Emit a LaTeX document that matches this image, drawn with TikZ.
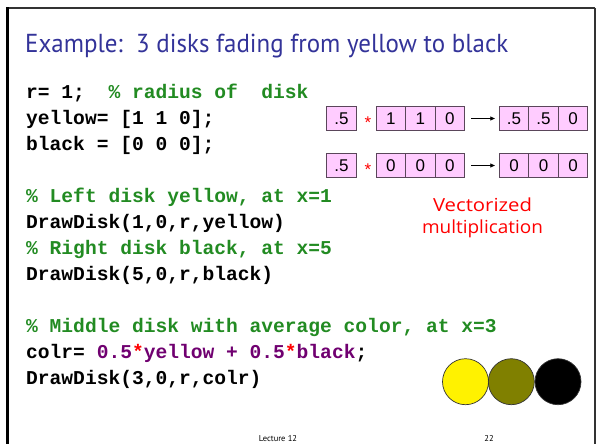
\documentclass[tikz,border=0pt]{standalone}
\usepackage{fontspec}
\usetikzlibrary{arrows.meta}
\setmainfont{Liberation Sans}
\newfontfamily\codefont{Liberation Mono}
\newfontfamily\titlefont{PT Sans}
\newfontfamily\notefont{Open Sans}
\definecolor{titleblue}{RGB}{51,51,153}
\definecolor{cgreen}{RGB}{34,139,34}
\definecolor{cpurple}{RGB}{112,0,112}
\definecolor{cellfill}{RGB}{255,204,255}
\definecolor{cellborder}{RGB}{90,70,90}
\definecolor{olivedisk}{RGB}{128,128,0}
\newcommand{\cm}[1]{\textcolor{cgreen}{#1}}
\newcommand{\pu}[1]{\textcolor{cpurple}{#1}}
\newcommand{\rs}{\textcolor{red}{*}}
\begin{document}
\begin{tikzpicture}[x=1pt,y=-1pt,
  code/.style={anchor=base west, inner sep=0pt, font={\codefont\bfseries\fontsize{19.6pt}{24pt}\selectfont}},
  cell/.style={draw=cellborder, line width=0.8pt, fill=cellfill, minimum width=29.5pt, minimum height=24.5pt, inner sep=0pt, font={\fontsize{17pt}{20pt}\selectfont}},
  star/.style={anchor=base, inner sep=0pt, text=red, font={\fontsize{17pt}{20pt}\selectfont}},
  arr/.style={line width=0.7pt, -{Triangle[length=4.5pt,width=4pt]}},
  disk/.style={circle, draw=black!80, line width=0.7pt, minimum size=46pt, inner sep=0pt},
  foot/.style={inner sep=0pt, anchor=base, font={\titlefont\fontsize{8.5pt}{10pt}\selectfont}}
]
\useasboundingbox (0,0) rectangle (596,444);
% slide frame
\draw[black!80, line width=2pt] (6,8.5) -- (595,8.5);
\draw[black!80, line width=1.2pt] (595,8) -- (595,444);
\draw[black, line width=3pt] (7.5,7.5) -- (7.5,444);

% title
\node[anchor=base west, inner sep=0pt, text=titleblue] (title) at (25,53)
  {\resizebox{483pt}{\height}{\titlefont\fontsize{26pt}{30pt}\selectfont Example:~~3 disks fading from yellow to black}};

% code
\node[code] (l1) at (26,98) {r=~1;~~\cm{\%~radius~of~~disk}};
\node[code] (l2) at (26,124) {yellow=~[1~1~0];};
\node[code] (l3) at (26,150) {black~=~[0~0~0];};
\node[code] (l4) at (26,202) {\cm{\%~Left~disk~yellow,~at~x=1}};
\node[code] (l5) at (26,228) {DrawDisk(1,0,r,yellow)};
\node[code] (l6) at (26,254) {\cm{\%~Right~disk~black,~at~x=5}};
\node[code] (l7) at (26,280) {DrawDisk(5,0,r,black)};
\node[code] (l8) at (26,332) {\cm{\%~Middle~disk~with~average~color,~at~x=3}};
\node[code] (l9) at (26,358) {colr=~\pu{0.5}\rs\pu{yellow~+~0.5}\rs\pu{black};};
\node[code] (l10) at (26,384) {DrawDisk(3,0,r,colr)};

% vectorized multiplication, row 1
\node[cell] (r1a) at (341.5,118.5) {.5};
\node[star] (r1s) at (368,128.5) {*};
\node[cell] (r1b1) at (390.75,118.5) {1};
\node[cell] (r1b2) at (420.25,118.5) {1};
\node[cell] (r1b3) at (449.75,118.5) {0};
\node[cell] (r1c1) at (514,118.5) {.5};
\node[cell] (r1c2) at (543.5,118.5) {.5};
\node[cell] (r1c3) at (573,118.5) {0};
\draw[arr] ([xshift=6.5pt]r1b3.east) -- ([xshift=-4pt]r1c1.west);

% row 2
\node[cell] (r2a) at (341.5,165.5) {.5};
\node[star] (r2s) at (368,175.5) {*};
\node[cell] (r2b1) at (390.75,165.5) {0};
\node[cell] (r2b2) at (420.25,165.5) {0};
\node[cell] (r2b3) at (449.75,165.5) {0};
\node[cell] (r2c1) at (514,165.5) {0};
\node[cell] (r2c2) at (543.5,165.5) {0};
\node[cell] (r2c3) at (573,165.5) {0};
\draw[arr] ([xshift=6.5pt]r2b3.east) -- ([xshift=-4pt]r2c1.west);

% note
\node[anchor=base, inner sep=0pt, text=red] (n1) at (482.5,211)
  {\resizebox{99pt}{\height}{\notefont\fontsize{18pt}{22pt}\selectfont Vectorized}};
\node[anchor=base, inner sep=0pt, text=red] (n2) at (482.5,233)
  {\resizebox{121pt}{\height}{\notefont\fontsize{18pt}{22pt}\selectfont multiplication}};

% disks
\node[disk, fill=yellow] (d1) at (465.5,381.7) {};
\node[disk, fill=olivedisk] (d2) at (511.3,381.7) {};
\node[disk, fill=black] (d3) at (558,381.7) {};

% footer
\node[foot] (f1) at (278,441) {Lecture 12};
\node[foot] (f2) at (489,441) {22};
\end{tikzpicture}
\end{document}
